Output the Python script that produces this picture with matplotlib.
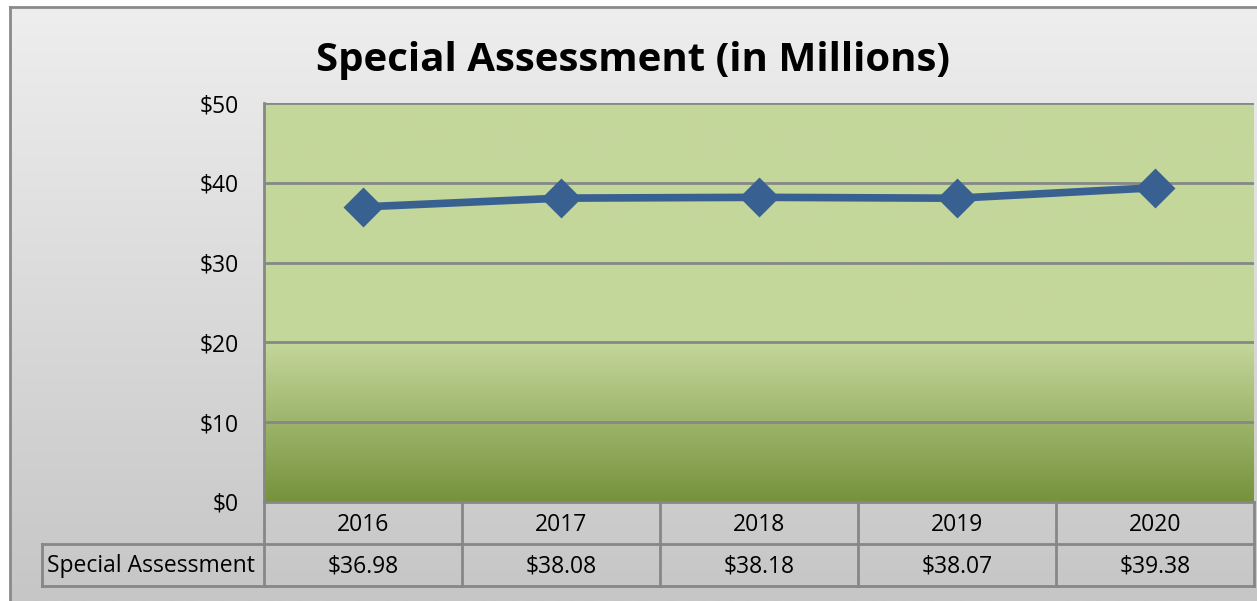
import matplotlib
matplotlib.use("Agg")
import matplotlib.pyplot as plt
import numpy as np
from matplotlib.colors import to_rgb
import matplotlib.transforms as mtransforms

# ---- data ----
years = ["2016", "2017", "2018", "2019", "2020"]
values = [36.98, 38.08, 38.18, 38.07, 39.38]
series_name = "Special Assessment"
title = "Special Assessment (in Millions)"
yticks = [0, 10, 20, 30, 40, 50]

W, H = 1257, 601
fig = plt.figure(figsize=(W / 100, H / 100), dpi=100)
fig.patch.set_facecolor("white")

FONT = "Open Sans"
GRID = "#878787"
FS = 16.5

# ---- chart area background (gradient, framed) ----
bg = fig.add_axes([0, 0, 1, 1], zorder=-10)
bg.axis("off")
top_c = np.array(to_rgb("#eeeeee"))
bot_c = np.array(to_rgb("#c6c6c6"))
t = np.linspace(0, 1, 256)[:, None]
grad = (top_c[None, :] * (1 - t) + bot_c[None, :] * t)[:, None, :]
bg.imshow(grad, extent=[10, W + 2, H, 7], aspect="auto", interpolation="bilinear")
bg.plot([10, 10], [7, H], color="#8a8a8a", lw=2)
bg.plot([10, W], [7, 7], color="#8a8a8a", lw=2)
bg.set_xlim(0, W)
bg.set_ylim(H, 0)

# ---- plot area ----
L, R, T, B = 264, 1254, 103, 502
ax = fig.add_axes([L / W, (H - B) / H, (R - L) / W, (B - T) / H])
ax.set_xlim(-0.5, len(years) - 0.5)
ax.set_ylim(0, 50)

# green gradient fill
light = np.array(to_rgb("#c4d79b"))
dark = np.array(to_rgb("#76923c"))
yy = np.linspace(50, 0, 400)
cols = []
for v in yy:
    if v >= 20:
        cols.append(light)
    else:
        f = (20 - v) / 20
        cols.append(light * (1 - f) + dark * f)
img = np.array(cols)[:, None, :]
ax.imshow(img, extent=[-0.5, len(years) - 0.5, 0, 50], aspect="auto",
          interpolation="bilinear", zorder=0)

for yv in yticks[1:]:
    ax.axhline(yv, color=GRID, lw=2, zorder=1)

ax.plot(range(len(years)), values, color="#386192", lw=5.5, zorder=3,
        marker="D", markersize=18, markerfacecolor="#386192",
        markeredgecolor="#386192", markeredgewidth=2, solid_joinstyle="round")

ax.set_yticks(yticks)
ax.set_yticklabels([f"${v}" for v in yticks], fontsize=FS, family=FONT)
ax.tick_params(axis="y", length=0, pad=18)
ax.set_xticks([])
for s in ["top", "right", "bottom"]:
    ax.spines[s].set_visible(False)
ax.spines["left"].set_color(GRID)
ax.spines["left"].set_linewidth(2)

# ---- title ----
fig.text((317 + 949) / 2 / W, 1 - 61 / H, title, ha="center", va="center",
         fontsize=29, fontweight="bold", family=FONT, color="black")

# ---- data table ----
trans = mtransforms.blended_transform_factory(ax.transData, ax.transAxes)
px = 1 / (B - T)  # one pixel in axes-y units
r1_bot = -42 * px
r2_bot = -84 * px
x_lab_left = -0.5 - (L - 42) / ((R - L) / len(years))
n = len(years)
kw = dict(color=GRID, lw=2, transform=trans, clip_on=False, zorder=5)
ax.plot([-0.5, n - 0.5], [0, 0], **kw)
ax.plot([x_lab_left, n - 0.5], [r1_bot, r1_bot], **kw)
ax.plot([x_lab_left, n - 0.5], [r2_bot, r2_bot], **kw)
for i in range(n + 1):
    ax.plot([i - 0.5, i - 0.5], [0, r2_bot], **kw)
ax.plot([x_lab_left, x_lab_left], [r1_bot, r2_bot], **kw)

for i, (yr, v) in enumerate(zip(years, values)):
    ax.text(i, r1_bot / 2 - 2 * px, yr, transform=trans, ha="center", va="center",
            fontsize=FS, family=FONT, clip_on=False)
    ax.text(i, (r1_bot + r2_bot) / 2 - 1 * px, f"${v:.2f}", transform=trans,
            ha="center", va="center", fontsize=FS, family=FONT, clip_on=False)
ax.text(x_lab_left + 0.025, (r1_bot + r2_bot) / 2 - 1 * px, series_name, transform=trans,
        ha="left", va="center", fontsize=FS, family=FONT, clip_on=False)

fig.savefig("out.png", dpi=100)
